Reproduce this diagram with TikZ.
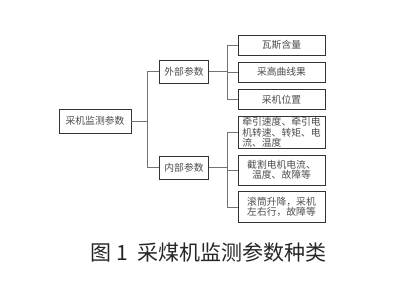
\documentclass[tikz,border=0pt]{standalone}
\usepackage{fontspec}
\setmainfont{Noto Sans CJK SC}
\usepackage{tikz}
\usetikzlibrary{positioning}

\begin{document}
\begin{tikzpicture}[
  x=1pt, y=-1pt,
  every node/.style={font=\fontsize{9.8}{10.3}\selectfont, text=black!70},
  box/.style={rectangle, draw=black!80, thick, inner sep=0.5pt, align=center},
  leaf/.style={box, minimum width=87pt},
  link/.style={draw=black!55, semithick}
]
\useasboundingbox (0,0) rectangle (407,297);
% Root and second level
\node[box, minimum width=72pt, minimum height=24pt] (root) at (95,121) {采机监测参数};
\node[box, minimum width=49pt, minimum height=23pt] (ext) at (184,71.5) {外部参数};
\node[box, minimum width=49pt, minimum height=23pt] (int) at (184,167.5) {内部参数};
% Leaves of the outer group
\node[leaf, minimum height=20pt] (gas) at (281.5,45) {瓦斯含量};
\node[leaf, minimum height=20pt] (hgt) at (281.5,72) {采高曲线果};
\node[leaf, minimum height=20pt] (pos) at (281.5,99.3) {采机位置};
% Leaves of the inner group
\node[leaf, minimum height=31.6pt, align=left] (haul) at (281.5,132.5) {牵引速度、牵引电\\机转速、转矩、电\\流、温度\hspace{39pt}};
\node[leaf, minimum height=30pt] (cut) at (281.5,170) {截割电机电流、\\温度、故障等};
\node[leaf, minimum height=31pt] (drum) at (281.5,207.2) {滚筒升降，采机\\左右行，故障等};
% Connectors
\draw[link] (root.east) -- ++(16,0) |- (ext.west);
\draw[link] (root.east) -- ++(16,0) |- (int.west);
\foreach \n in {gas,hgt,pos}
  \draw[link] (ext.east) -- ++(18,0) |- (\n.west);
\foreach \n in {haul,cut,drum}
  \draw[link] (int.east) -- ++(18,0) |- (\n.west);
% Caption
\node[font=\fontsize{21}{24}\selectfont, text=black!85] (cap) at (208.5,252) {图\hspace{5pt}1\hspace{10pt}采煤机监测参数种类};
\end{tikzpicture}
\end{document}
